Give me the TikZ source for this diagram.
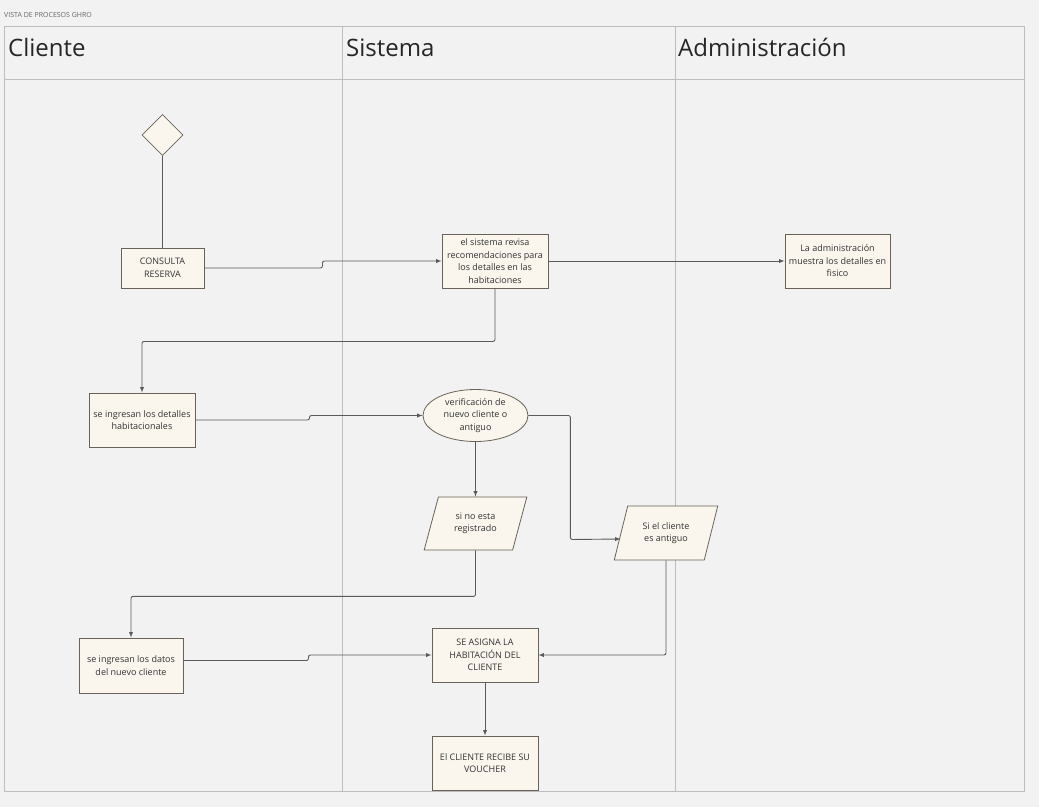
\documentclass[tikz,border=0pt]{standalone}
\usepackage{fontspec}
\setmainfont{Open Sans}
\usepackage{xcolor}
\usepackage{tikz}
\usetikzlibrary{%
  arrows,%
  calc,%
  shapes.geometric,%
  positioning}

\definecolor{fondo}{HTML}{F2F2F2}
\definecolor{carril}{HTML}{BDBDBD}
\definecolor{caja}{HTML}{FAF6EE}
\definecolor{borde}{HTML}{6A6258}
\definecolor{linea}{HTML}{5A5A5A}

\begin{document}
\begin{tikzpicture}[x=1pt,y=-1pt,
  tache/.style={rectangle,draw=borde,fill=caja,line width=0.9pt,align=center,inner sep=2pt,
    font=\fontsize{9}{12.5}\selectfont,text=black!80},
  elip/.style={ellipse,draw=borde,fill=caja,line width=0.8pt,align=center,inner sep=0pt,
    font=\fontsize{9}{12.5}\selectfont,text=black!80},
  donnee/.style={trapezium,trapezium left angle=69,trapezium right angle=111,trapezium stretches=true,
    draw=borde,fill=caja,line width=0.8pt,align=center,inner sep=0pt,
    font=\fontsize{9}{12.5}\selectfont,text=black!80},
  inicio/.style={diamond,draw=borde,fill=caja,line width=0.8pt,inner sep=0pt,aspect=1,
    minimum width=41pt,minimum height=41pt},
  carr/.style={draw=carril,line width=1pt},
  titre/.style={anchor=base west,inner sep=0pt,font=\fontsize{24}{28}\selectfont,text=black!85},
  lien/.style={draw=linea,line width=0.9pt,rounded corners=2pt},
  fl/.style={lien,-latex}]
\useasboundingbox[fill=fondo] (0,0) rectangle (1039,807);
% carriles
\node (T) at (4,17) [anchor=base west,inner sep=0pt,font=\fontsize{7}{8}\selectfont,text=black!60] {VISTA DE PROCESOS GHRO};
\draw[carr] (4,26) rectangle (1024,791);
\draw[carr] (4,79) -- (1024,79);
\draw[carr] (342,26) -- (342,791);
\draw[carr] (675,26) -- (675,791);
\node (L1) at (8,56) [titre] {Cliente};
\node (L2) at (346,56) [titre] {Sistema};
\node (L3) at (678,56) [titre] {Administración};
% description et nommage des noeuds
\node (I) at (162.5,135) [inicio] {};
\node (CR) at (162.5,268) [tache,minimum width=83pt,minimum height=40pt] {CONSULTA\\RESERVA};
\node (SR) at (495,261) [tache,minimum width=106pt,minimum height=54pt] {el sistema revisa\\recomendaciones para\\los detalles en las\\habitaciones};
\node (AD) at (837.5,261) [tache,minimum width=105pt,minimum height=54pt] {La administración\\muestra los detalles en\\fisico};
\node (DH) at (142,420) [tache,minimum width=106pt,minimum height=54pt] {se ingresan los detalles\\habitacionales};
\node (VC) at (475.5,415.5) [elip,minimum width=105pt,minimum height=52pt] {verificación de\\nuevo cliente o\\antiguo};
\node (NR) at (475.5,523.5) [donnee,minimum width=103pt,minimum height=53pt] {si no esta\\registrado};
\node (CA) at (666,533) [donnee,minimum width=104pt,minimum height=54pt] {Si el cliente\\es antiguo};
\node (DN) at (131,665.5) [tache,minimum width=104pt,minimum height=55pt] {se ingresan los datos\\del nuevo cliente};
\node (AH) at (485,655) [tache,minimum width=106pt,minimum height=54pt] {SE ASIGNA LA\\HABITACIÓN DEL\\CLIENTE};
\node (VO) at (485,763) [tache,minimum width=106pt,minimum height=54pt] {El CLIENTE RECIBE SU\\VOUCHER};
% conexiones
\draw[lien] (I) -- (CR);
\draw[fl] (CR.east) -- ++(118,0) |- (SR.west);
\draw[fl] (SR) -- (AD);
\draw[fl] (SR.south) -- ++(0,53) -| (DH.north);
\draw[fl] (DH.east) -- ++(114,0) |- (VC.west);
\draw[fl] (VC) -- (NR);
\draw[fl] (VC.east) -| ++(42,124) -- (CA.west |- 0,539);
\draw[fl] (NR.south) -- ++(0,46) -| (DN.north);
\draw[fl] ($(DN.east)+(0,-5)$) -- ++(125,0) |- (AH.west);
\draw[fl] (CA.south) |- (AH.east);
\draw[fl] (AH) -- (VO);
\end{tikzpicture}
\end{document}
